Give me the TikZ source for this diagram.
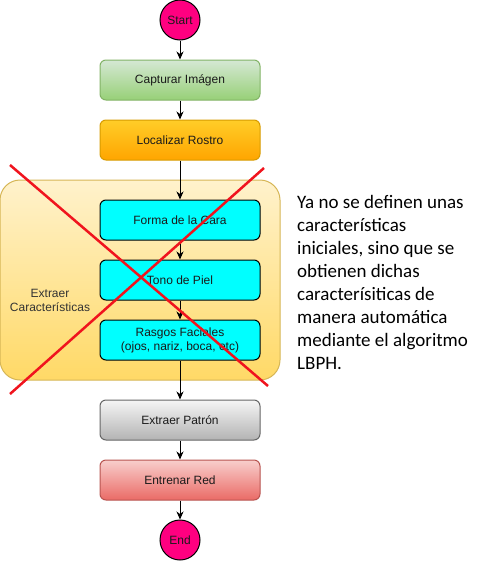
\documentclass[tikz,border=0pt]{standalone}
\usepackage{fontspec}
\setmainfont{Liberation Sans}
\newfontfamily\calfont{Carlito}
\usetikzlibrary{arrows.meta}
\definecolor{startfill}{HTML}{FF0080}
\definecolor{grT}{HTML}{D5E8D4}\definecolor{grB}{HTML}{97D077}\definecolor{grS}{HTML}{82B366}
\definecolor{orT}{HTML}{FFCD28}\definecolor{orB}{HTML}{FFA500}\definecolor{orS}{HTML}{D79B00}
\definecolor{yeT}{HTML}{FFF2CC}\definecolor{yeB}{HTML}{FFD966}\definecolor{yeS}{HTML}{D6B656}
\definecolor{gyT}{HTML}{F5F5F5}\definecolor{gyB}{HTML}{B3B3B3}\definecolor{gyS}{HTML}{666666}
\definecolor{rdT}{HTML}{F8CECC}\definecolor{rdB}{HTML}{EA6B66}\definecolor{rdS}{HTML}{B85450}
\definecolor{cyanfill}{HTML}{00FFFF}
\definecolor{xred}{HTML}{F0141E}
\definecolor{txt}{HTML}{1A1A1A}
\tikzset{
  box/.style={rectangle, rounded corners=6pt, minimum width=160pt, minimum height=40pt, inner sep=0pt, line width=1pt, font=\fontsize{12}{14}\selectfont, align=center, text=txt},
  term/.style={circle, minimum size=40pt, inner sep=0pt, fill=startfill, draw=black, line width=1pt, font=\fontsize{12}{14}\selectfont, text=txt},
  flow/.style={line width=1pt, -{Stealth[length=8pt,width=7pt,inset=2.5pt]}},
  cross/.style={xred, line width=2.5pt},
}
\begin{document}
\begin{tikzpicture}[x=1pt,y=-1pt]
\useasboundingbox (0,0) rectangle (487,562);
% container
\node[rectangle, rounded corners=20pt, minimum width=280pt, minimum height=200pt, line width=1pt, draw=yeS, top color=yeT, bottom color=yeB] (grp) at (140,280) {};
\node[align=center, font=\fontsize{12}{14}\selectfont, text=black!80] (grplbl) at (50,300) {Extraer\\Características};
% nodes
\node[term] (start) at (180,20) {Start};
\node[box, draw=grS, top color=grT, bottom color=grB] (cap) at (180,80) {Capturar Imágen};
\node[box, draw=orS, top color=orT, bottom color=orB] (loc) at (180,140) {Localizar Rostro};
\node[box, draw=black, fill=cyanfill] (forma) at (180,220) {Forma de la Cara};
\node[box, draw=black, fill=cyanfill] (tono) at (180,280) {Tono de Piel};
\node[box, draw=black, fill=cyanfill] (rasgos) at (180,340) {Rasgos Faciales\\(ojos, nariz, boca, etc)};
\node[box, draw=gyS, top color=gyT, bottom color=gyB] (pat) at (180,420) {Extraer Patrón};
\node[box, draw=rdS, top color=rdT, bottom color=rdB] (red) at (180,480) {Entrenar Red};
\node[term] (end) at (180,540) {End};
% edges
\draw[flow] (start) -- (cap);
\draw[flow] (cap) -- (loc);
\draw[flow] (loc) -- (forma);
\draw[flow] (forma) -- (tono);
\draw[flow] (tono) -- (rasgos);
\draw[flow] (rasgos) -- (pat);
\draw[flow] (pat) -- (red);
\draw[flow] (red) -- (end);
% red cross
\coordinate (x1a) at (10,165);
\coordinate (x1b) at (268,386);
\coordinate (x2a) at (264,168);
\coordinate (x2b) at (10,394);
\draw[cross] (x1a) -- (x1b);
\draw[cross] (x2a) -- (x2b);
% note
\node[anchor=north west, inner sep=0pt, align=left, font=\calfont\fontsize{19}{23}\selectfont] (note) at (297,195) {Ya no se definen unas\\características\\iniciales, sino que se\\obtienen dichas\\caracterísiticas de\\manera automática\\mediante el algoritmo\\LBPH.};
\end{tikzpicture}
\end{document}
